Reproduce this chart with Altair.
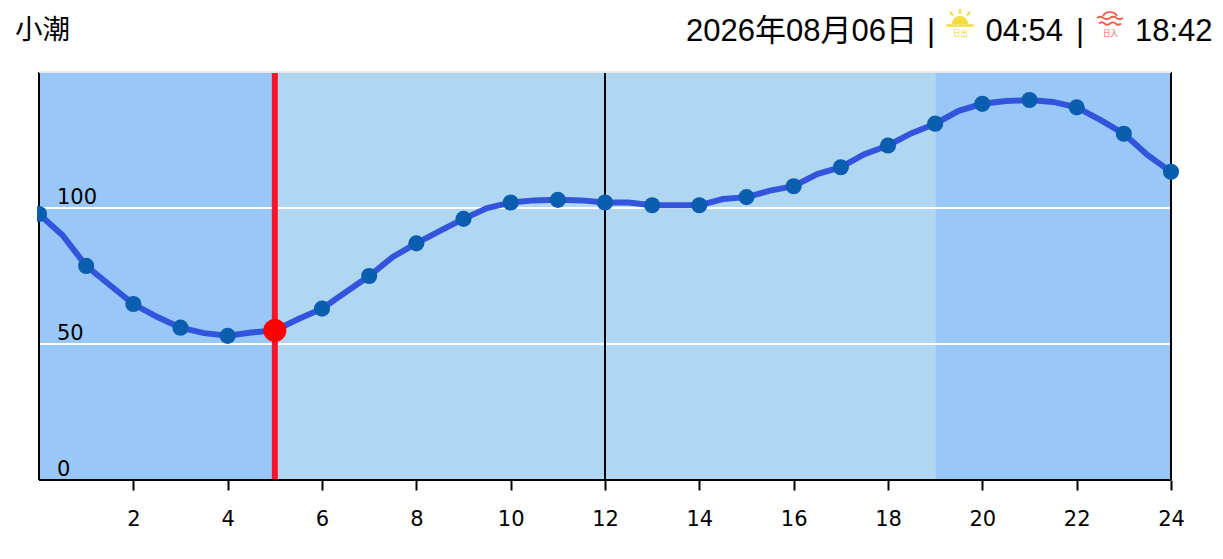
import altair as alt
import pandas as pd

hours = [0,1,2,3,4,5,6,7,8,9,10,11,12,13,14,15,16,17,18,19,20,21,22,23,24]
tide = [97.8,78.7,64.7,56,53,55,63,75,87,96,102,103,102,101,101,104,108,115,123,131,138.3,139.7,137,127.3,113.3]
half_hours = [0.5,1.5,2.5,3.5,4.5,5.5,6.5,7.5,8.5,9.5,10.5,11.5,12.5,13.5,14.5,15.5,16.5,17.5,18.5,19.5,20.5,21.5,22.5,23.5]
half_tide = [90,71.7,60,54,54.2,59.2,69,82,91.6,100,102.8,102.8,102,101,103.3,106.4,112.5,119.8,127.5,135.7,139.3,139,132.4,119.5]
xticks = list(range(2,25,2))
ylabels = [0,50,100]

W,H = 1132,408
xs = alt.Scale(domain=[0,24],nice=False,zero=False)
ys = alt.Scale(domain=[0,150],nice=False,zero=False)
pts = pd.DataFrame({"h":hours,"v":tide})
line_df = pd.concat([pts,pd.DataFrame({"h":half_hours,"v":half_tide})]).sort_values("h")

xax = alt.Axis(values=xticks,labelFont="DejaVu Sans",labelFontSize=21,labelColor="#000",tickColor="#000",tickWidth=2,tickSize=10,labelPadding=18,domain=False,grid=False,title=None,labelAngle=0,labelFlush=False,labelOverlap=False)
X = alt.X("h:Q",scale=xs,axis=xax)
Y = alt.Y("v:Q",scale=ys,axis=None)

bands = alt.Chart(pd.DataFrame({"h":[0,19,5],"b":[5,24,19],"c":["#99c8f8","#99c8f8","#b0d7f2"]})).mark_rect().encode(
    x=X,x2="b:Q",color=alt.Color("c:N",scale=None))
grid = alt.Chart(pd.DataFrame({"v":[50,100]})).mark_rule(color="#fff",strokeWidth=2).encode(y=Y)
ylab = alt.Chart(pd.DataFrame({"v":ylabels,"l":["0","50","100"]})).mark_text(align="left",baseline="bottom",font="DejaVu Sans",fontSize=21,dx=18,dy=0,color="#000").encode(
    x=alt.value(0),y=Y,text="l:N")
frame_v = alt.Chart(pd.DataFrame({"h":[0,12,24]})).mark_rule(color="#000",strokeWidth=2).encode(x=X)
base = alt.Chart(pd.DataFrame({"v":[0]})).mark_rule(color="#000",strokeWidth=2).encode(y=Y)
top = alt.Chart(pd.DataFrame({"v":[150]})).mark_rule(color="#e8e8e8",strokeWidth=2).encode(y=Y)
now_rule = alt.Chart(pd.DataFrame({"h":[5]})).mark_rule(color="#f9142b",strokeWidth=6).encode(x=X)
line = alt.Chart(line_df).mark_line(color="#3355dd",strokeWidth=6,clip=False).encode(x=X,y=Y,order="h:Q")
dots = alt.Chart(pts).mark_point(filled=True,color="#0b5db0",opacity=1,size=260,clip=False).encode(x=X,y=Y)
now_dot = alt.Chart(pd.DataFrame({"h":[5],"v":[55]})).mark_point(filled=True,color="#fe0000",opacity=1,size=530,clip=False).encode(x=X,y=Y)
cover = alt.Chart(pd.DataFrame({"k":[0]})).mark_rect(color="#fff",clip=False).encode(
    x=alt.value(-14),x2=alt.value(-2),y=alt.value(128),y2=alt.value(156))

FONT = "Liberation Sans, Noto Sans CJK JP"
def txt(s,px,py,size=31,color="#000",align="left"):
    return alt.Chart(pd.DataFrame({"t":[s]})).mark_text(align=align,baseline="middle",font=FONT,fontSize=size,color=color,clip=False).encode(
        x=alt.value(px-39),y=alt.value(py-72),text="t:N")

sun = "data:image/svg+xml;utf8," + "%3Csvg xmlns='http://www.w3.org/2000/svg' viewBox='0 0 40 40'%3E%3Cpath d='M12 19a8 8 0 0 1 16 0z' fill='%23f3dc3c'/%3E%3Cpath d='M6.500 20.500H33.500' stroke='%23f3dc3c' stroke-width='2.500'/%3E%3Cpath d='M20 4V9M10 7l3 3.500M30 7l-3 3.500' stroke='%23f3dc3c' stroke-width='2'/%3E%3C/svg%3E"
sunset = "data:image/svg+xml;utf8," + "%3Csvg xmlns='http://www.w3.org/2000/svg' viewBox='0 0 40 40'%3E%3Cg fill='none' stroke='%23f0604c' stroke-width='1.800'%3E%3Cpath d='M13 11a7.500 6 0 0 1 14 0'/%3E%3Cpath d='M7 13q3.250-2.500 6.500 0t6.500 0t6.500 0t6.500 0M9 18.500q2.750-2.500 5.500 0t5.500 0t5.500 0t5.500 0'/%3E%3C/g%3E%3C/svg%3E"
def img(u,cx,cy,s=40):
    return alt.Chart(pd.DataFrame({"u":[u]})).mark_image(width=s,height=s,clip=False).encode(
        x=alt.value(cx-39),y=alt.value(cy-72),url="u:N")

chart = alt.layer(
    bands,grid,now_rule,frame_v,base,top,line,dots,now_dot,cover,ylab,
    txt("小潮",15,30.5,27.5),
    txt("2026年08月06日",686,32),
    txt("|",927,32),
    img(sun,960,25),
    txt("日出",960.5,34,7.5,"#e8d24a","center"),
    txt("04:54",985.5,32),
    txt("|",1076,32),
    img(sunset,1110,25),
    txt("日入",1110.5,34,7.5,"#f0604c","center"),
    txt("18:42",1135,32),
).properties(width=W,height=H,padding={"left":31,"top":64,"right":44,"bottom":60},autosize=alt.AutoSizeParams(type="none")
).configure_view(stroke=None)
chart.save("out.html",embed_options={"renderer":"svg","actions":False})
